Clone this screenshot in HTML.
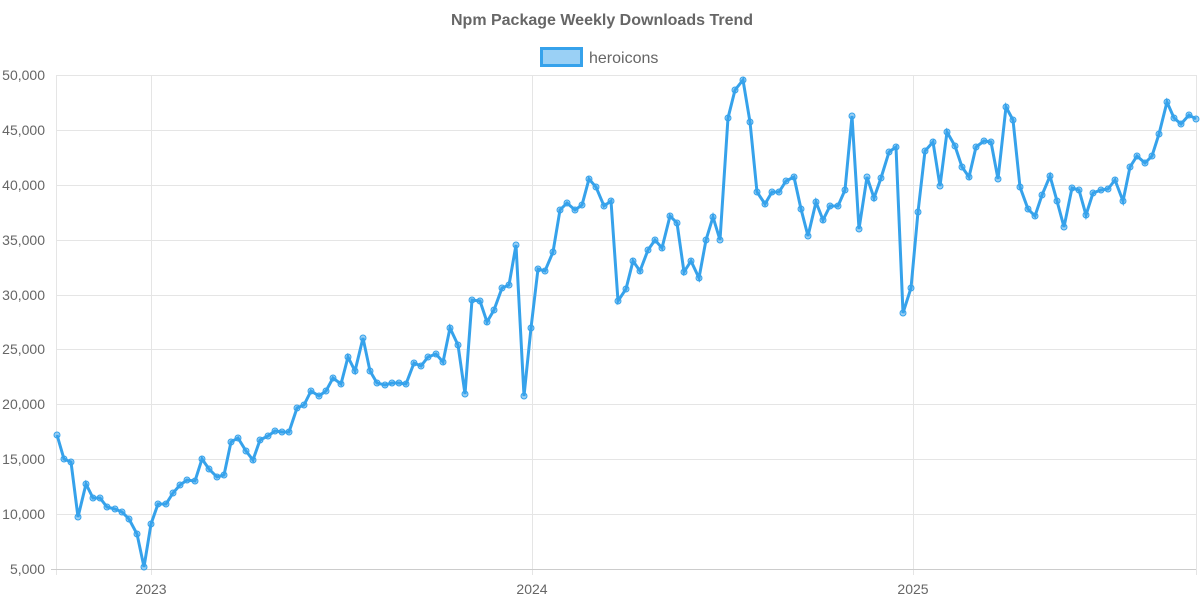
<!DOCTYPE html>
<html><head><meta charset="utf-8"><style>
html,body{margin:0;padding:0;background:#fff;}
svg{display:block;font-family:"Liberation Sans",Arial,sans-serif;}
</style></head><body>
<svg id="c" width="1200" height="600" viewBox="0 0 1200 600" xmlns="http://www.w3.org/2000/svg">
<text x="602" y="25" text-anchor="middle" font-size="16" font-weight="bold" fill="#666">Npm Package Weekly Downloads Trend</text>
<rect x="541.5" y="48.5" width="40" height="17" fill="rgba(54,162,235,0.5)" stroke="#36a2eb" stroke-width="3"/>
<text x="589" y="63" font-size="16" fill="#666">heroicons</text>
<g stroke="#e5e5e5" stroke-width="1">
<line x1="57" y1="75.5" x2="1196" y2="75.5"/><line x1="57" y1="130.5" x2="1196" y2="130.5"/>
<line x1="57" y1="185.5" x2="1196" y2="185.5"/><line x1="57" y1="240.5" x2="1196" y2="240.5"/>
<line x1="57" y1="295.5" x2="1196" y2="295.5"/><line x1="57" y1="349.5" x2="1196" y2="349.5"/>
<line x1="57" y1="404.5" x2="1196" y2="404.5"/><line x1="57" y1="459.5" x2="1196" y2="459.5"/>
<line x1="57" y1="514.5" x2="1196" y2="514.5"/>
<line x1="56.5" y1="75" x2="56.5" y2="575"/><line x1="151.5" y1="75" x2="151.5" y2="575"/>
<line x1="532.5" y1="75" x2="532.5" y2="575"/><line x1="913.5" y1="75" x2="913.5" y2="575"/>
<line x1="1196.5" y1="75" x2="1196.5" y2="575"/>
</g>
<line x1="51" y1="569.5" x2="1196" y2="569.5" stroke="#ccc"/>
<g font-size="14" fill="#666" text-anchor="end">
<text x="45" y="80">50,000</text><text x="45" y="135">45,000</text><text x="45" y="190">40,000</text>
<text x="45" y="245">35,000</text><text x="45" y="300">30,000</text><text x="45" y="354">25,000</text>
<text x="45" y="409">20,000</text><text x="45" y="464">15,000</text><text x="45" y="519">10,000</text>
<text x="45" y="574">5,000</text>
</g>
<g font-size="14" fill="#666" text-anchor="middle">
<text x="151" y="594">2023</text><text x="532" y="594">2024</text><text x="913" y="594">2025</text>
</g>
<g id="s"></g>
</svg>
<script>
var p="57,435 64,459 71,462 78,517 86,484 93,498 100,498 107,507 115,509 122,512 129,519 137,534 144,567 151,524 158,504 166,504 173,493 180,485 187,480 195,481 202,459 209,469 217,477 224,475 231,442 238,438 246,451 253,460 260,440 268,436 275,431 282,432 289,432 297,408 304,405 311,391 319,396 326,391 333,378 341,384 348,357 355,371 363,338 370,371 377,383 385,385 392,383 399,383 406,384 414,363 421,366 428,357 436,354 443,362 450,328 458,345 465,394 472,300 480,301 487,322 494,310 502,288 509,285 516,245 524,396 531,328 538,269 545,271 553,252 560,210 567,203 575,210 582,205 589,179 596,187 604,206 611,201 618,301 626,289 633,261 640,271 648,250 655,240 662,248 670,216 677,223 684,272 691,261 699,278 706,240 713,217 720,240 728,118 735,90 743,80 750,122 757,192 765,204 772,192 779,192 786,181 794,177 801,209 808,236 816,202 823,220 830,206 838,206 845,190 852,116 859,229 867,177 874,198 881,178 889,152 896,147 903,313 911,288 918,212 925,151 933,142 940,186 947,132 955,146 962,167 969,177 976,147 984,141 991,142 998,179 1006,107 1013,120 1020,187 1028,209 1035,216 1042,195 1050,176 1057,201 1064,227 1072,188 1079,190 1086,215 1093,193 1101,190 1108,189 1115,180 1123,201 1130,167 1137,156 1145,163 1152,156 1159,134 1167,102 1174,118 1181,124 1189,115 1196,119";
var ns="http://www.w3.org/2000/svg",g=document.getElementById("s");
var pl=document.createElementNS(ns,"polyline");
pl.setAttribute("points",p);pl.setAttribute("fill","none");pl.setAttribute("stroke","#36a2eb");pl.setAttribute("stroke-width","3");pl.setAttribute("stroke-linejoin","miter");
g.appendChild(pl);
p.split(" ").forEach(function(q){var a=q.split(",");var c=document.createElementNS(ns,"circle");
c.setAttribute("cx",a[0]);c.setAttribute("cy",a[1]);c.setAttribute("r","3");c.setAttribute("fill","rgba(54,162,235,0.5)");c.setAttribute("stroke","#36a2eb");c.setAttribute("stroke-width","1");g.appendChild(c);});
</script>
</body></html>
